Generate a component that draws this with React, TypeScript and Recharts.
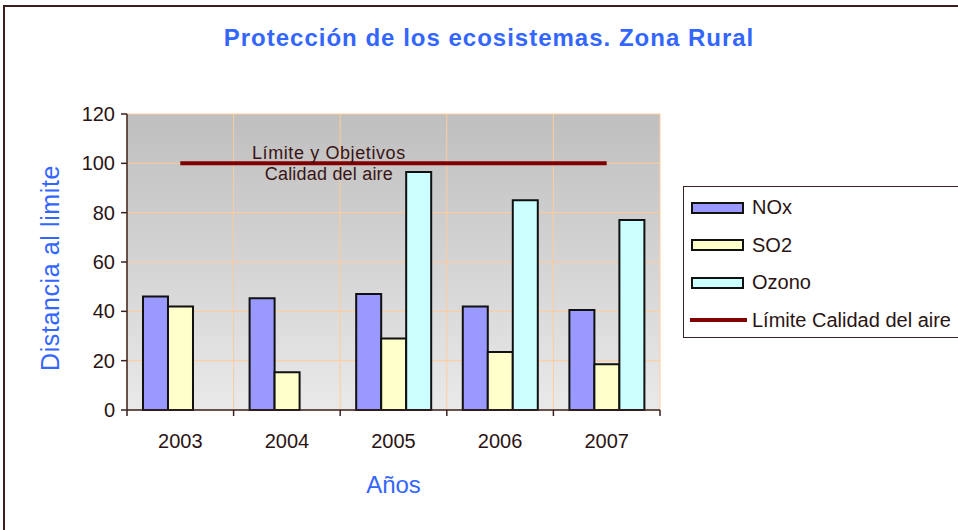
import React from 'react';
import {
  ComposedChart,
  Bar,
  Line,
  XAxis,
  YAxis,
  CartesianGrid,
  Legend,
  ReferenceDot,
} from 'recharts';

const years = ['2003', '2004', '2005', '2006', '2007'];
const noxValues = [46, 45.3, 47, 42, 40.5];
const so2Values = [42, 15.3, 29, 23.5, 18.5];
const ozonoValues: (number | null)[] = [null, null, 96.5, 85, 77];
const limiteValues = [100, 100, 100, 100, 100];
const yTicks = [0, 20, 40, 60, 80, 100, 120];
const boundaryTicks = [0, 1, 2, 3, 4, 5];

const seriesNames = {
  nox: 'NOx',
  so2: 'SO2',
  ozono: 'Ozono',
  limite: 'Límite Calidad del aire',
};
const legendOrder = [seriesNames.nox, seriesNames.so2, seriesNames.ozono, seriesNames.limite];

const data = years.map((year, i) => ({
  year,
  nox: noxValues[i],
  so2: so2Values[i],
  ozono: ozonoValues[i],
  limite: limiteValues[i],
}));

const FONT = '"Liberation Sans", Arial, sans-serif';
const TEXT = '#2a1414';
const AXIS = '#3a2222';
const BLUE = '#3366ff';

const renderLegend = (props: any) => {
  const payload = [...(props.payload || [])].sort(
    (a: any, b: any) => legendOrder.indexOf(a.value) - legendOrder.indexOf(b.value)
  );
  return (
    <div
      style={{
        border: `1px solid ${AXIS}`,
        background: '#ffffff',
        width: 300,
        height: 152,
        boxSizing: 'border-box',
        paddingTop: 2,
        fontFamily: FONT,
        fontSize: 20,
        color: TEXT,
      }}
    >
      {payload.map((p: any) => (
        <div
          key={p.value}
          style={{ display: 'flex', alignItems: 'center', height: 37.5, paddingLeft: 7 }}
        >
          {p.type === 'line' ? (
            <div style={{ width: 57, height: 4, marginLeft: -1, background: p.color }} />
          ) : (
            <div
              style={{
                width: 53,
                height: 12,
                boxSizing: 'border-box',
                background: p.color,
                border: '2px solid #111',
              }}
            />
          )}
          <span style={{ marginLeft: p.type === 'line' ? 5 : 8, whiteSpace: 'nowrap' }}>{p.value}</span>
        </div>
      ))}
    </div>
  );
};

const renderXTick = (props: any) => {
  const { x, y, payload, index } = props;
  const off = payload && typeof payload.offset === 'number' ? payload.offset : 0;
  return (
    <g>
      {off > 0 && <line x1={x - off} x2={x - off} y1={y} y2={y + 6} stroke={AXIS} strokeWidth={1.5} />}
      {off > 0 && index === years.length - 1 && (
        <line x1={x + off} x2={x + off} y1={y} y2={y + 6} stroke={AXIS} strokeWidth={1.5} />
      )}
      <text x={x} y={y + 38} textAnchor="middle" fontSize={20} fill={TEXT} fontFamily={FONT}>
        {payload.value}
      </text>
    </g>
  );
};

const renderXLabel = (props: any) => {
  const vb = props.viewBox;
  return (
    <text x={vb.x + vb.width / 2} y={vb.y + 83} textAnchor="middle" fontSize={24} fill={BLUE} fontFamily={FONT}>
      Años
    </text>
  );
};

const renderYLabel = (props: any) => {
  const vb = props.viewBox;
  const cx = vb.x - 17;
  const cy = vb.y + vb.height / 2 + 6;
  return (
    <text
      x={cx}
      y={cy}
      textAnchor="middle"
      dominantBaseline="central"
      fontSize={25}
      letterSpacing={0.6}
      fill={BLUE}
      fontFamily={FONT}
      transform={`rotate(-90 ${cx} ${cy})`}
    >
      Distancia al limite
    </text>
  );
};

const renderNote = (props: any) => {
  const vb = props.viewBox;
  const cx = vb.x + (vb.width || 0) / 2 + 42;
  const cy = vb.y + (vb.height || 0) / 2;
  return (
    <g>
      <text x={cx} y={cy - 4} textAnchor="middle" fontSize={18} letterSpacing={0.6} fill="#3a1414" fontFamily={FONT}>
        Límite y Objetivos
      </text>
      <text x={cx} y={cy + 17} textAnchor="middle" fontSize={18} letterSpacing={0.2} fill="#3a1414" fontFamily={FONT}>
        Calidad del aire
      </text>
    </g>
  );
};

const boundaryGenerator = (args: any) => {
  const off = args.offset;
  return boundaryTicks.map((t) => off.left + (t * off.width) / years.length);
};

export default function App() {
  return (
    <div
      style={{
        position: 'absolute',
        left: 0,
        top: 0,
        width: 958,
        height: 530,
        overflow: 'hidden',
        background: '#ffffff',
        fontFamily: FONT,
      }}
    >
      <div
        style={{
          position: 'absolute',
          left: 3,
          top: 5,
          width: 1100,
          height: 700,
          border: '2px solid #3a1e1e',
        }}
      />
      <div
        style={{
          position: 'absolute',
          left: 10,
          top: 26,
          width: 958,
          textAlign: 'center',
          fontSize: 24,
          lineHeight: '24px',
          fontWeight: 'bold',
          letterSpacing: 1,
          color: BLUE,
          fontFamily: FONT,
        }}
      >
        Protección de los ecosistemas. Zona Rural
      </div>
      <div style={{ position: 'absolute', left: 0, top: 0 }}>
        <ComposedChart
          width={958}
          height={530}
          data={data}
          margin={{ top: 114, right: 298, bottom: 80, left: 67 }}
          barCategoryGap="15%"
          barGap={0}
        >
          <defs>
            <linearGradient id="plotBg" x1="0" y1="0" x2="0" y2="1">
              <stop offset="0%" stopColor="#bfbfbf" />
              <stop offset="100%" stopColor="#e9e9e9" />
            </linearGradient>
          </defs>
          <CartesianGrid
            stroke="#ffcc99"
            strokeWidth={1}
            fill="url(#plotBg)"
            fillOpacity={1}
            horizontalValues={yTicks}
            verticalCoordinatesGenerator={boundaryGenerator}
          />
          <XAxis
            dataKey="year"
            type="category"
            height={40}
            tickSize={0}
            tickMargin={0}
            tickLine={false}
            axisLine={{ stroke: AXIS, strokeWidth: 1.5 }}
            tick={renderXTick}
            interval={0}
            label={renderXLabel}
          />
          <YAxis
            domain={[0, 120]}
            ticks={yTicks}
            width={60}
            tickSize={6}
            tickMargin={6}
            interval={0}
            tick={{ fontSize: 20, fill: TEXT, fontFamily: FONT }}
            tickLine={{ stroke: AXIS, strokeWidth: 1.5 }}
            axisLine={{ stroke: AXIS, strokeWidth: 1.5 }}
            label={renderYLabel}
          />
          <Bar dataKey="nox" name={seriesNames.nox} fill="#9999ff" stroke="#111" strokeWidth={2} isAnimationActive={false} />
          <Bar dataKey="so2" name={seriesNames.so2} fill="#ffffcc" stroke="#111" strokeWidth={2} isAnimationActive={false} />
          <Bar dataKey="ozono" name={seriesNames.ozono} fill="#ccffff" stroke="#111" strokeWidth={2} isAnimationActive={false} />
          <Line
            dataKey="limite"
            name={seriesNames.limite}
            stroke="#800000"
            strokeWidth={4}
            dot={false}
            activeDot={false}
            isAnimationActive={false}
          />
          <ReferenceDot x="2004" y={100} r={0} fill="none" stroke="none" isFront label={renderNote} />
          <Legend
            layout="vertical"
            align="center"
            verticalAlign="middle"
            content={renderLegend}
            wrapperStyle={{ left: 683, top: 186, width: 300 }}
          />
        </ComposedChart>
      </div>
    </div>
  );
}
